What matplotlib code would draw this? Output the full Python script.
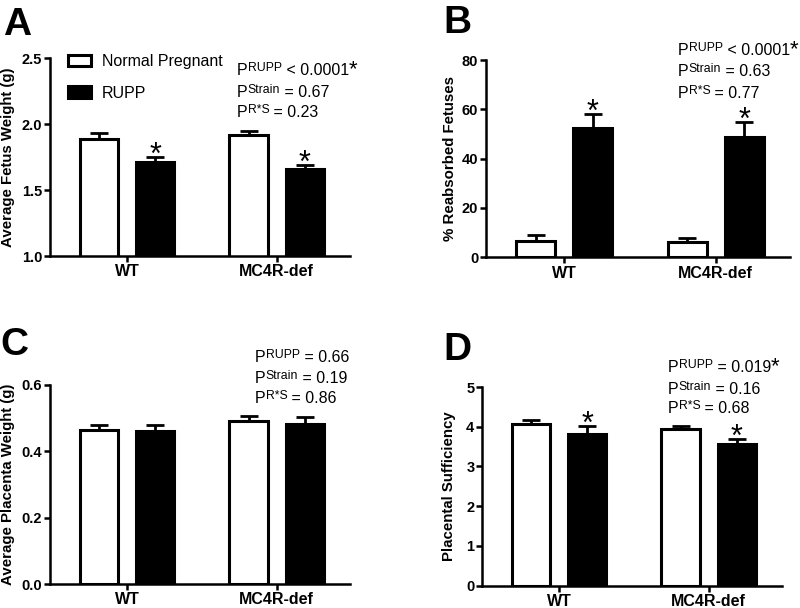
import numpy as np
import matplotlib
matplotlib.use('Agg')
from matplotlib import pyplot as plt
from matplotlib.patches import Patch

plt.rcParams['font.family'] = 'Liberation Sans'

groups = ['WT', 'MC4R-def']
series = ['Normal Pregnant', 'RUPP']

# values: [WT, MC4R-def]
fetus_np = [1.89, 1.92]
fetus_np_sem = [0.04, 0.025]
fetus_rupp = [1.715, 1.657]
fetus_rupp_sem = [0.035, 0.035]

resorb_np = [6.7, 6.1]
resorb_np_sem = [2.3, 1.6]
resorb_rupp = [52.3, 48.9]
resorb_rupp_sem = [5.7, 5.9]

placenta_np = [0.465, 0.492]
placenta_np_sem = [0.014, 0.014]
placenta_rupp = [0.462, 0.482]
placenta_rupp_sem = [0.018, 0.021]

suff_np = [4.07, 3.95]
suff_np_sem = [0.11, 0.08]
suff_rupp = [3.82, 3.57]
suff_rupp_sem = [0.19, 0.13]

p_names = ['RUPP', 'Strain', 'R*S']
pvals_a = ['< 0.0001', '= 0.67', '= 0.23']
pvals_b = ['< 0.0001', '= 0.63', '= 0.77']
pvals_c = ['= 0.66', '= 0.19', '= 0.86']
pvals_d = ['= 0.019', '= 0.16', '= 0.68']

fig = plt.figure(figsize=(8, 6.08), dpi=100)
W, H = 800, 608


def fx(px):
    return px / W


def fy(py):
    return 1 - py / H


def panel(rect, np_vals, np_sem, rupp_vals, rupp_sem, ylim, yticks, fmt, ylabel, labelx, stars):
    ax = fig.add_axes(rect)
    x = np.arange(len(groups))
    off = 0.188
    bw = 0.257
    ax.bar(x - off, np_vals, bw, color='white', edgecolor='black', linewidth=2.2, zorder=2)
    ax.bar(x + off, rupp_vals, bw, color='black', edgecolor='black', linewidth=2.2, zorder=2)
    ax.errorbar(x - off, np_vals, yerr=[np.zeros(2), np_sem], fmt='none', ecolor='black',
                elinewidth=2, capsize=6.5, capthick=2, zorder=1)
    ax.errorbar(x + off, rupp_vals, yerr=[np.zeros(2), rupp_sem], fmt='none', ecolor='black',
                elinewidth=2, capsize=6.5, capthick=2, zorder=1)
    if stars:
        for xi, v, s in zip(x + off, rupp_vals, rupp_sem):
            ax.annotate('*', (xi, v + s), xytext=(0, -5), textcoords='offset points',
                        ha='center', va='baseline', fontsize=22)
    ax.set_xlim(-0.515, 1.49)
    ax.set_ylim(*ylim)
    ax.set_yticks(yticks)
    ax.set_yticklabels([fmt.format(t) for t in yticks], fontweight='bold', fontsize=10.5)
    ax.set_xticks(x)
    ax.set_xticklabels(groups, fontweight='bold', fontsize=11.5)
    ax.set_ylabel(ylabel, fontweight='bold', fontsize=10.8)
    ax.yaxis.set_label_coords(labelx, 0.5)
    for side in ['top', 'right']:
        ax.spines[side].set_visible(False)
    for side in ['left', 'bottom']:
        ax.spines[side].set_linewidth(1.8)
    ax.tick_params(width=1.8, length=4, pad=1.5)
    ax.tick_params(axis='x', pad=2)
    ax.patch.set_visible(False)
    return ax


axA = panel([fx(50), fy(256), fx(300), 198 / H], fetus_np, fetus_np_sem, fetus_rupp, fetus_rupp_sem,
            (1.0, 2.5), [1.0, 1.5, 2.0, 2.5], '{:.1f}', 'Average Fetus Weight (g)', -0.115, True)
axB = panel([fx(486), fy(257.3), fx(304), 197.3 / H], resorb_np, resorb_np_sem, resorb_rupp, resorb_rupp_sem,
            (0, 80), [0, 20, 40, 60, 80], '{:d}', '% Reabsorbed Fetuses', -0.095, True)
axC = panel([fx(50), fy(584), fx(300), 199 / H], placenta_np, placenta_np_sem, placenta_rupp, placenta_rupp_sem,
            (0, 0.6), [0.0, 0.2, 0.4, 0.6], '{:.1f}', 'Average Placenta Weight (g)', -0.115, False)
axD = panel([fx(482), fy(585.5), fx(300), 198.4 / H], suff_np, suff_np_sem, suff_rupp, suff_rupp_sem,
            (0, 5), [0, 1, 2, 3, 4, 5], '{:d}', 'Placental Sufficiency', -0.085, True)

axA.legend(handles=[Patch(facecolor='white', edgecolor='black', linewidth=2.2, label=series[0]),
                    Patch(facecolor='black', edgecolor='black', linewidth=2.2, label=series[1])],
           loc='upper left', bbox_to_anchor=(0.06, 1.02), frameon=False, fontsize=11.5,
           borderpad=0, borderaxespad=0, handlelength=1.44, handleheight=0.75,
           labelspacing=1.05, handletextpad=0.69)

# p-value blocks, superscripts drawn as smaller raised text
renderer = fig.canvas.get_renderer()


def ptext(x0, y0, name, rest, star):
    t1 = fig.text(fx(x0), fy(y0), 'P', fontsize=11.5, va='baseline', ha='left')
    x1 = t1.get_window_extent(renderer).x1
    t2 = fig.text(x1 / W, fy(y0 - 4), name, fontsize=8.8, va='baseline', ha='left')
    x2 = t2.get_window_extent(renderer).x1
    t3 = fig.text(x2 / W, fy(y0), ' ' + rest, fontsize=11.5, va='baseline', ha='left')
    if star:
        x3 = t3.get_window_extent(renderer).x1
        fig.text(x3 / W, fy(y0), '*', fontsize=16, va='baseline', ha='left')


for x0, ys, vals, star in [(237, [75, 97, 117], pvals_a, True),
                           (678, [55, 76, 98], pvals_b, True),
                           (255, [361.7, 383, 403], pvals_c, False),
                           (668, [371.7, 394, 413], pvals_d, True)]:
    for i, (name, v, y) in enumerate(zip(p_names, vals, ys)):
        ptext(x0, y, name, v, star and i == 0)

# panel letters
for letter, x0, y0 in [('A', 3, 35), ('B', 443, 33), ('C', 0, 355), ('D', 443, 360)]:
    fig.text(fx(x0), fy(y0), letter, fontsize=28, fontweight='bold', va='baseline', ha='left')

fig.savefig('out.png', dpi=100)
